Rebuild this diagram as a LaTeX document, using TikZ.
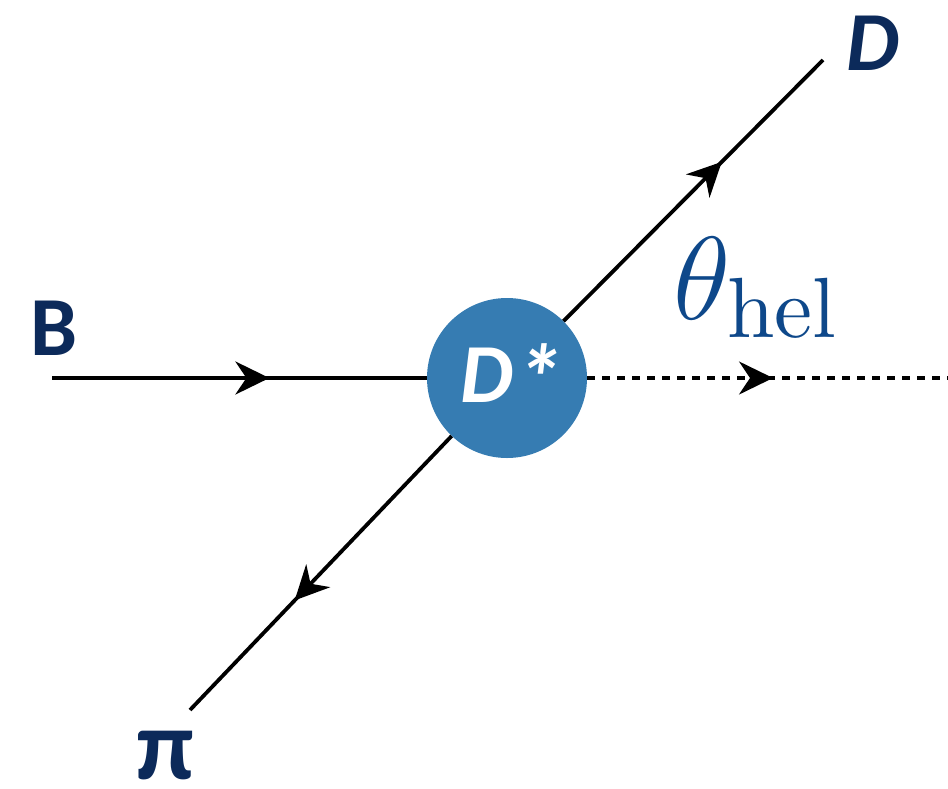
\documentclass[tikz,border=0pt]{standalone}
\usepackage{graphicx}
\usepackage{fontspec}
\newfontfamily\labfont{Carlito}
\usetikzlibrary{arrows.meta,decorations.markings}
\definecolor{navy}{RGB}{12,42,90}
\definecolor{thetablue}{RGB}{14,72,138}
\definecolor{ballblue}{RGB}{54,124,178}
\tikzset{
  prop/.style={line width=3.8pt, black},
  arrowmid/.style={postaction={decorate, decoration={markings,
      mark=at position #1 with {\arrow{Stealth[length=34pt,width=33pt,inset=11pt]}}}}},
  partlabel/.style={text=navy, inner sep=0pt, font=\labfont\bfseries\fontsize{84}{90}\selectfont},
}
\begin{document}
\begin{tikzpicture}[x=1pt,y=-1pt]
\useasboundingbox (0,0) rectangle (948,788);
\node[circle, fill=ballblue, minimum size=160pt, inner sep=0pt, text=white,
      font=\labfont\bfseries\itshape\fontsize{84}{90}\selectfont] (Dstar) at (507,378)
      {\kern10pt D\kern2pt\raisebox{-9pt}{\fontsize{95}{95}\selectfont*}};
\coordinate (Bstart) at (52,378);
\coordinate (Dend) at (823,60);
\coordinate (Piend) at (190,710);
\coordinate (Hend) at (948,378);
\draw[prop, arrowmid=0.58] (Bstart) -- (Dstar);
\draw[prop, arrowmid=0.61] (Dstar) -- (Dend);
\draw[prop, arrowmid=0.60] (Dstar) -- (Piend);
\draw[line width=3.2pt, dash pattern=on 8pt off 7pt, arrowmid=0.515] (Dstar.east) -- (Hend);
\node[partlabel, anchor=base] (Blab) at (54,355) {B};
\node[partlabel, anchor=base, font=\labfont\bfseries\itshape\fontsize{84}{90}\selectfont] (Dlab) at (873,70) {D};
\node[partlabel, anchor=center, font=\labfont\bfseries\fontsize{100}{100}\selectfont] (Pilab) at (165,756) {π};
\node[text=thetablue, inner sep=0pt, anchor=base west] (theta) at (673,319)
  {\scalebox{5.7}{\huge$\theta_{\scalebox{1.5}{\fontsize{10}{12}\selectfont hel}}$}};
\end{tikzpicture}
\end{document}
